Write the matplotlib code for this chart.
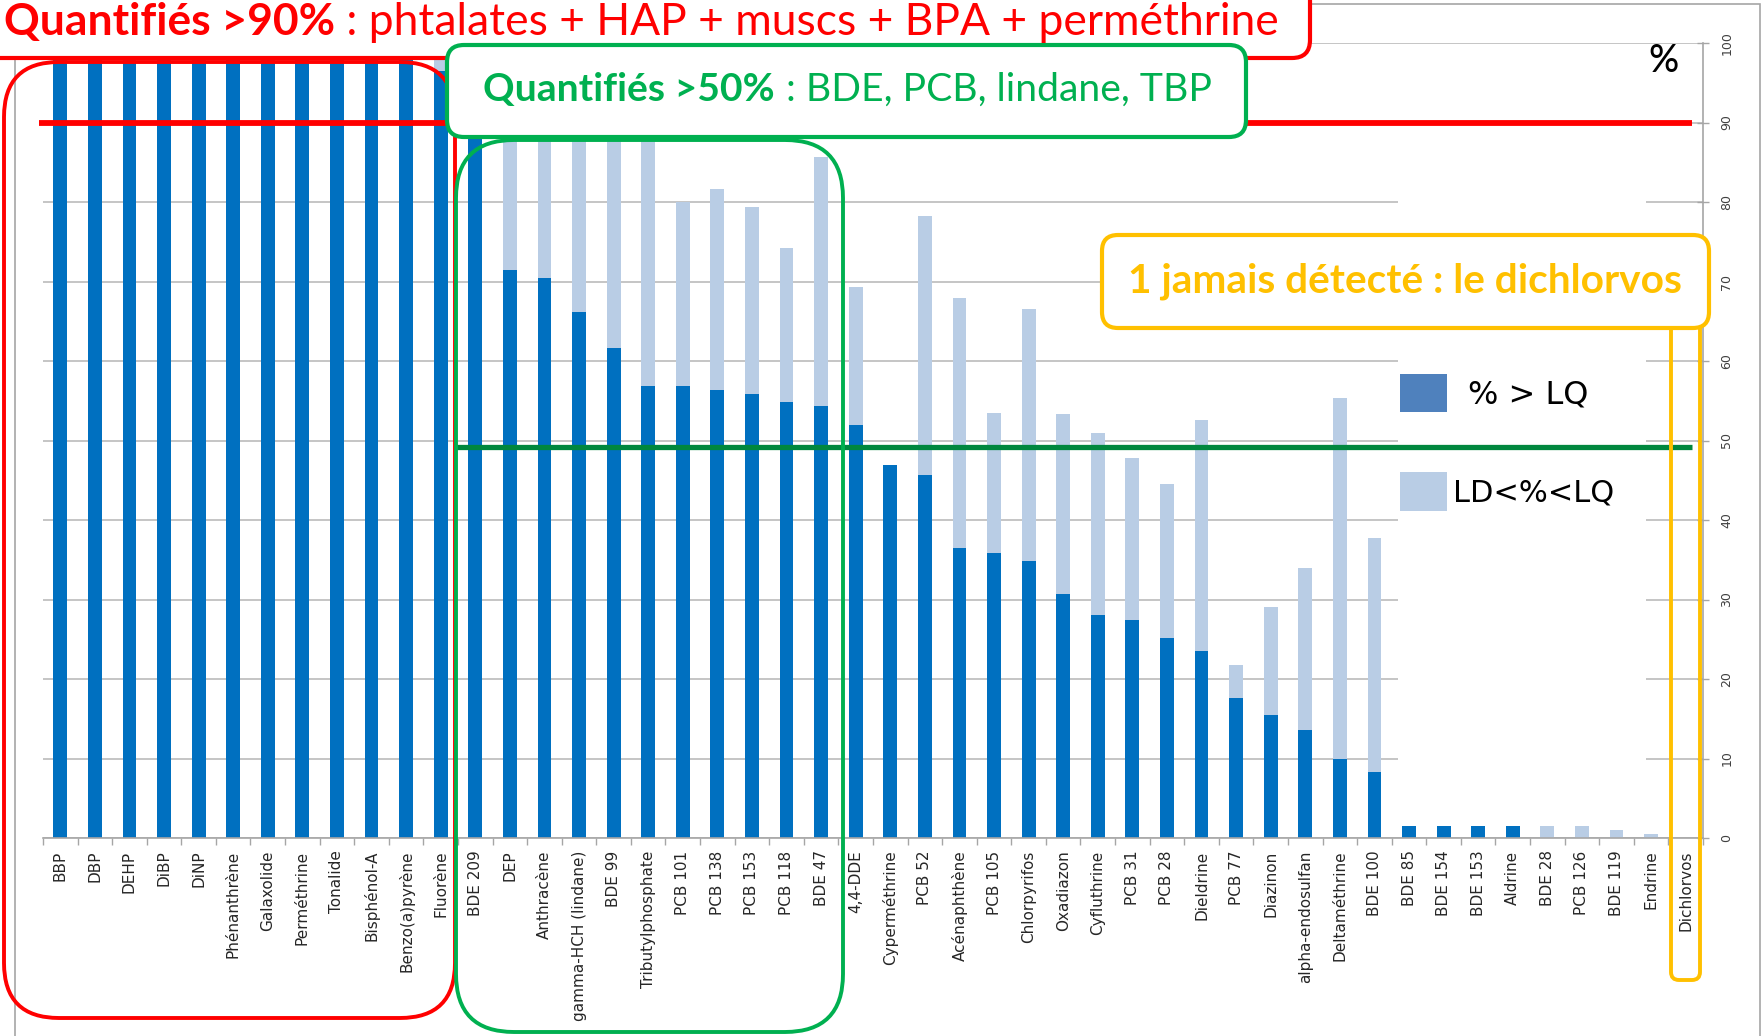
import matplotlib
matplotlib.use("Agg")
import matplotlib.pyplot as plt
from matplotlib.patches import FancyBboxPatch, Rectangle
from matplotlib.transforms import blended_transform_factory
import numpy as np

# ---------------- data ----------------
categories = ["BBP", "DBP", "DEHP", "DiBP", "DiNP", "Phénanthrène", "Galaxolide",
              "Perméthrine", "Tonalide", "Bisphénol-A", "Benzo(a)pyrène", "Fluorène",
              "BDE 209", "DEP", "Anthracène", "gamma-HCH (lindane)", "BDE 99",
              "Tributylphosphate", "PCB 101", "PCB 138", "PCB 153", "PCB 118", "BDE 47",
              "4,4-DDE", "Cyperméthrine", "PCB 52", "Acénaphthène", "PCB 105",
              "Chlorpyrifos", "Oxadiazon", "Cyfluthrine", "PCB 31", "PCB 28", "Dieldrine",
              "PCB 77", "Diazinon", "alpha-endosulfan", "Deltaméthrine", "BDE 100",
              "BDE 85", "BDE 154", "BDE 153", "Aldrine", "BDE 28", "PCB 126", "BDE 119",
              "Endrine", "Dichlorvos"]

# % > LQ (quantified)
above_lq = [100, 100, 100, 100, 100, 100, 100, 100, 100, 100, 100, 96.5,
            97, 71.4, 70.5, 66.2, 61.6, 56.8, 56.8, 56.3, 55.8, 54.8, 54.3,
            52.0, 46.9, 45.6, 36.5, 35.9, 34.8, 30.7, 28.0, 27.4, 25.1, 23.5,
            17.6, 15.5, 13.6, 9.9, 8.3,
            1.5, 1.5, 1.5, 1.5, 0, 0, 0, 0, 0]

# total detected (% > LD)
detected = [100, 100, 100, 100, 100, 100, 100, 100, 100, 100, 100, 100,
            100, 92, 92, 92, 92, 92, 80.0, 81.6, 79.4, 74.2, 85.6,
            69.3, 46.9, 78.2, 67.9, 53.4, 66.6, 53.3, 51.0, 47.8, 44.5, 52.6,
            21.7, 29.1, 34.0, 55.3, 37.7,
            1.5, 1.5, 1.5, 1.5, 1.5, 1.5, 1.0, 0.5, 0]

yticks = list(range(0, 101, 10))
legend_labels = ["% > LQ", "LD<%<LQ"]
threshold_90 = 90
threshold_50 = 49.2

# ---------------- figure ----------------
W, H = 1763, 1036
fig = plt.figure(figsize=(W / 100, H / 100), dpi=100)
fig.patch.set_facecolor("white")

L, R, T, B = 43, 1703, 43, 838
ax = fig.add_axes([L / W, (H - B) / H, (R - L) / W, (B - T) / H])

x = np.arange(len(categories))
quant = np.array(above_lq)
light = np.array(detected) - quant

DARK = "#0070C0"
LIGHT = "#B9CDE5"
ax.bar(x, quant, width=0.4, color=DARK, zorder=2)
ax.bar(x, light, width=0.4, bottom=quant, color=LIGHT, zorder=2)

ax.set_xlim(-0.5, len(categories) - 0.5)
ax.set_ylim(0, 100)

ax.set_xticks(x)
ax.set_xticklabels(categories, rotation=90, fontsize=11, color="#262626",
                   family="DejaVu Sans")
ax.set_xticks(np.arange(-0.5, len(categories), 1), minor=True)
ax.tick_params(axis="x", which="major", length=0, pad=9)
ax.tick_params(axis="x", which="minor", length=5, color="#A6A6A6", width=1)

ax.yaxis.tick_right()
ax.set_yticks(yticks)
ax.set_yticklabels([str(v) for v in yticks])
ax.tick_params(axis="y", which="major", direction="inout", length=9, width=1,
               color="#A6A6A6", labelsize=9, labelcolor="#404040", pad=8,
               labelrotation=90)
for lab in ax.get_yticklabels():
    lab.set_verticalalignment("center")

ax.yaxis.grid(True, color="#C0C0C0", lw=1.3)
ax.set_axisbelow(True)
for s in ["left", "top"]:
    ax.spines[s].set_visible(False)
for s in ["right", "bottom"]:
    ax.spines[s].set_color("#A6A6A6")
    ax.spines[s].set_linewidth(1.2)

# ---------------- overlay in pixel coordinates ----------------
ov = fig.add_axes([0, 0, 1, 1], zorder=5)
ov.set_xlim(0, W)
ov.set_ylim(H, 0)
ov.axis("off")
ov.patch.set_visible(False)

# white legend background inside plot area (behind bars, above grid)
ax.add_patch(Rectangle((1398, 160), 248, 650, transform=ov.transData,
                       facecolor="white", edgecolor="none", zorder=1))

# outer chart border
ov.add_patch(Rectangle((15, 4), 1745, 1100, fill=False, edgecolor="#A6A6A6", lw=1.2))

mix = blended_transform_factory(ov.transData, ax.transData)
ov.plot([39, 1692], [threshold_90, threshold_90], color="#FF0000", lw=4.2,
        transform=mix, solid_capstyle="butt", zorder=1)
ov.plot([455, 1692], [threshold_50, threshold_50], color="#00873E", lw=3.8,
        transform=mix, solid_capstyle="butt", zorder=1)

RED = "#FF0000"
GREEN = "#00B050"
YEL = "#FFC000"

def rbox(x0, y0, x1, y1, r, ec, lw, fc="none", z=2):
    p = FancyBboxPatch((x0, y0), x1 - x0, y1 - y0,
                       boxstyle=f"round,pad=0,rounding_size={r}",
                       facecolor=fc, edgecolor=ec, lw=lw, zorder=z)
    ov.add_patch(p)

# inner group boxes
rbox(4, 62, 455, 1018, 55, RED, 2.8)
rbox(456, 140, 843, 1032, 58, GREEN, 2.8)
rbox(1671, 300, 1700, 980, 8, YEL, 2.8)

# header boxes (white filled)
rbox(-20, -20, 1310, 58, 18, RED, 3.0, fc="white", z=3)
rbox(447, 45, 1246, 137, 17, GREEN, 3.0, fc="white", z=3)
rbox(1102, 235, 1709, 328, 16, YEL, 3.0, fc="white", z=3)

renderer = fig.canvas.get_renderer()

def fitted_text(parts, x0, x1, ybase, family, s0=20):
    widths = []
    for t, w, c in parts:
        tt = ov.text(0, 0, t, fontsize=s0, fontweight=w, family=family)
        widths.append(tt.get_window_extent(renderer).width)
        tt.remove()
    scale = (x1 - x0) / sum(widths)
    s = s0 * scale
    cx = x0
    for (t, w, c), wd in zip(parts, widths):
        ov.text(cx, ybase, t, fontsize=s, fontweight=w, family=family, color=c,
                ha="left", va="baseline", zorder=4)
        cx += wd * scale

fitted_text([("Quantifiés >90%", "bold", RED),
             (" : phtalates + HAP + muscs + BPA + perméthrine", "normal", RED)],
            4, 1280, 35, "Lato")
fitted_text([("Quantifiés >50%", "bold", GREEN),
             (" : BDE, PCB, lindane, TBP", "normal", GREEN)],
            483, 1212, 101, "Lato")
fitted_text([("1 jamais détecté : le dichlorvos", "bold", YEL)],
            1128, 1683, 292, "Lato")

ov.text(1664, 62, "%", fontsize=27, color="black", ha="center", va="center",
        family="Lato", fontweight="medium", zorder=4)

# legend
ov.add_patch(Rectangle((1400, 374), 47, 38, facecolor="#4F81BD", edgecolor="none", zorder=4))
ov.add_patch(Rectangle((1400, 472), 47, 39, facecolor=LIGHT, edgecolor="none", zorder=4))
ov.text(1468, 395, legend_labels[0], fontsize=23, color="black", ha="left",
        va="center", family="DejaVu Sans", zorder=4)
ov.text(1453, 493, legend_labels[1], fontsize=22, color="black", ha="left",
        va="center", family="DejaVu Sans", zorder=4)

fig.savefig("out.png", dpi=100, facecolor="white")
